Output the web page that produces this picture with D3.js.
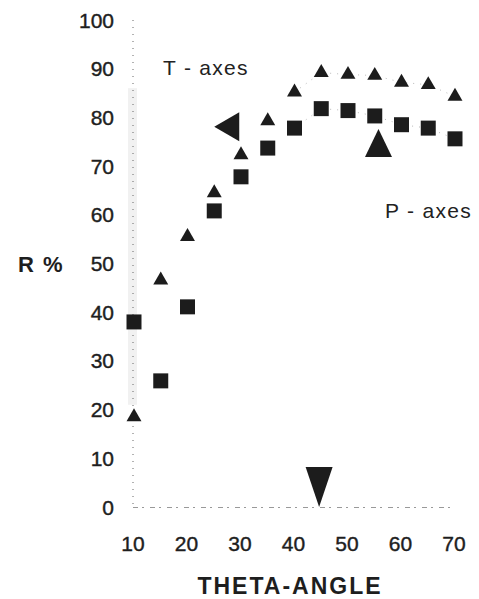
<!DOCTYPE html>
<html>
<head>
<meta charset="utf-8">
<script src="https://cdn.jsdelivr.net/npm/d3@7"></script>
<style>
  body { margin: 0; background: #fff; }
  svg { display: block; font-family: "Liberation Sans", Arial, sans-serif; }
</style>
</head>
<body>
<div id="chart"></div>
<script>
(function() {
    'use strict';

    // data
    var theta = [10, 15, 20, 25, 30, 35, 40, 45, 50, 55, 60, 65, 70];
    var tAxes = [18.5, 46.6, 55.5, 64.5, 72.3, 79.3, 85.2, 89.2, 88.8, 88.6, 87.2, 86.7, 84.3];
    var pAxes = [38.0, 25.9, 41.1, 60.8, 67.8, 73.7, 77.8, 81.8, 81.4, 80.3, 78.5, 77.8, 75.6];
    var xTicks = [10, 20, 30, 40, 50, 60, 70];
    var yTicks = [0, 10, 20, 30, 40, 50, 60, 70, 80, 90, 100];
    // big arrow heads, tip position in data units
    var arrowX = [25, 55.7, 44.6];
    var arrowY = [78.1, 77.6, 0];
    var arrowDir = ["left", "up", "down"];

    var width = 479, height = 599;

    var svg = d3.select("#chart").append("svg")
        .attr("width", width)
        .attr("height", height);

    var x = d3.scaleLinear().domain([10, 70]).range([134, 455]);
    var y = d3.scaleLinear().domain([0, 100]).range([507, 20]);

    // scan shading along the y axis
    svg.append("rect")
        .attr("x", 128).attr("y", y(86))
        .attr("width", 9).attr("height", y(21) - y(86))
        .attr("fill", "#f1f1f1");

    // dotted axes
    svg.append("line")
        .attr("x1", 133).attr("x2", 133)
        .attr("y1", y(100)).attr("y2", y(0))
        .attr("stroke", "#666").attr("stroke-width", 1)
        .attr("stroke-dasharray", "1,6");
    svg.append("line")
        .attr("x1", 133).attr("x2", x(70))
        .attr("y1", y(0) + 0.5).attr("y2", y(0) + 0.5)
        .attr("stroke", "#999").attr("stroke-width", 1)
        .attr("stroke-dasharray", "5,4,2,6");

    // tick labels
    svg.append("g").selectAll("text")
        .data(yTicks).enter()
        .append("text")
        .attr("x", 114)
        .attr("y", function(d) { return y(d); })
        .attr("dy", "0.36em")
        .attr("text-anchor", "end")
        .attr("font-size", 21)
        .attr("fill", "#1e1e1e")
        .attr("stroke", "#1e1e1e").attr("stroke-width", 0.4)
        .text(function(d) { return d; });

    svg.append("g").selectAll("text")
        .data(xTicks).enter()
        .append("text")
        .attr("x", function(d) { return x(d) - 1; })
        .attr("y", 543)
        .attr("dy", "0.36em")
        .attr("text-anchor", "middle")
        .attr("font-size", 21)
        .attr("fill", "#1e1e1e")
        .attr("stroke", "#1e1e1e").attr("stroke-width", 0.4)
        .text(function(d) { return d; });

    // axis titles
    svg.append("text")
        .attr("x", 41).attr("y", 264).attr("dy", "0.36em")
        .attr("text-anchor", "middle")
        .attr("font-size", 22).attr("font-weight", "bold")
        .attr("letter-spacing", 1.5)
        .attr("fill", "#1e1e1e")
        .text("R %");
    svg.append("text")
        .attr("x", 290).attr("y", 586).attr("dy", "0.36em")
        .attr("text-anchor", "middle")
        .attr("font-size", 23).attr("font-weight", "bold")
        .attr("letter-spacing", 2)
        .attr("fill", "#1e1e1e")
        .text("THETA-ANGLE");

    // series labels
    svg.append("text")
        .attr("x", 163).attr("y", 75)
        .attr("font-size", 21).attr("letter-spacing", 1.3)
        .attr("fill", "#222")
        .text("T - axes");
    svg.append("text")
        .attr("x", 385).attr("y", 218)
        .attr("font-size", 21).attr("letter-spacing", 1.3)
        .attr("fill", "#222")
        .text("P - axes");

    // faint dotted traces seen between the upper points
    var line = d3.line()
        .x(function(d) { return x(d[0]); })
        .y(function(d) { return y(d[1]); });
    [tAxes, pAxes].forEach(function(vals) {
        var pts = theta.map(function(t, i) { return [t, vals[i]]; })
            .filter(function(d) { return d[0] >= 40; });
        svg.append("path")
            .attr("d", line(pts))
            .attr("fill", "none")
            .attr("stroke", "#bbb")
            .attr("stroke-width", 1)
            .attr("stroke-dasharray", "1,6");
    });

    // markers
    var tri = d3.symbol().type(d3.symbolTriangle).size(97);
    var sq = d3.symbol().type(d3.symbolSquare).size(225);

    svg.append("g").selectAll("path")
        .data(theta).enter()
        .append("path")
        .attr("d", tri)
        .attr("transform", function(d, i) { return "translate(" + x(d) + "," + y(tAxes[i]) + ")"; })
        .attr("fill", "#1c1c1c");

    svg.append("g").selectAll("path")
        .data(theta).enter()
        .append("path")
        .attr("d", sq)
        .attr("transform", function(d, i) { return "translate(" + x(d) + "," + y(pAxes[i]) + ")"; })
        .attr("fill", "#1c1c1c");

    // big arrow heads
    function arrowPath(dir) {
        if (dir === "left") return "M0,0L25,-14.5L25,14.5Z";
        if (dir === "up") return "M0,0L13.5,28L-13.5,28Z";
        return "M0,0L-13.5,-40L13.5,-40Z";
    }
    svg.append("g").selectAll("path")
        .data(arrowDir).enter()
        .append("path")
        .attr("d", function(d) { return arrowPath(d); })
        .attr("transform", function(d, i) { return "translate(" + x(arrowX[i]) + "," + y(arrowY[i]) + ")"; })
        .attr("fill", "#1c1c1c");
})();
</script>
</body>
</html>
